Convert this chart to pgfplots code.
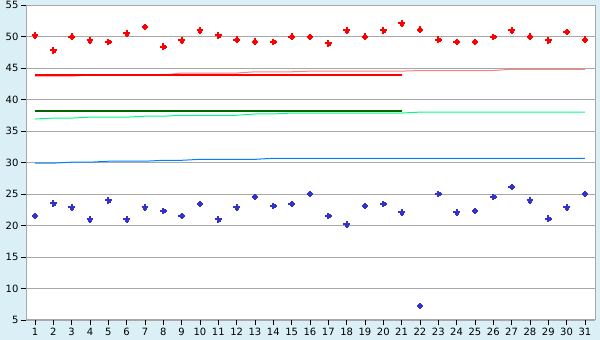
\documentclass[border=0pt]{standalone}
\usepackage{pgfplots}
\pgfplotsset{compat=1.18}
\usepackage{pgfplotstable}
\usepackage{fontspec}
\setmainfont{DejaVu Sans}
\definecolor{bg}{RGB}{218,240,246}
\definecolor{gridgray}{RGB}{168,168,168}
\definecolor{ptred}{RGB}{255,0,0}
\definecolor{ptblue}{RGB}{51,51,204}
\definecolor{salmon}{RGB}{255,128,128}
\definecolor{springg}{RGB}{0,255,128}
\definecolor{dgreen}{RGB}{0,102,0}
\definecolor{lblue}{RGB}{0,128,255}

\pgfplotstableread{
x red blue salmon spring lb
1 50.2 21.5 43.7 36.9 29.9
2 47.8 23.5 43.7 37.05 29.9
3 50.0 22.9 43.7 37.05 30.05
4 49.4 21.0 43.9 37.2 30.05
5 49.1 24.0 43.9 37.2 30.2
6 50.5 21.0 43.9 37.2 30.2
7 51.5 22.9 43.9 37.35 30.2
8 48.4 22.3 43.9 37.35 30.35
9 49.4 21.5 44.2 37.5 30.35
10 51.0 23.4 44.2 37.5 30.5
11 50.2 21.0 44.2 37.5 30.5
12 49.5 22.9 44.2 37.5 30.5
13 49.2 24.5 44.4 37.7 30.5
14 49.1 23.1 44.4 37.7 30.67
15 50.0 23.4 44.4 37.85 30.67
16 49.9 25.0 44.5 37.85 30.67
17 48.9 21.5 44.5 37.85 30.67
18 51.0 20.2 44.5 37.85 30.67
19 50.0 23.1 44.5 37.85 30.67
20 51.0 23.4 44.5 37.85 30.67
21 52.1 22.1 44.5 37.85 30.67
22 51.1 7.2 44.6 38.0 30.67
23 49.5 25.0 44.6 38.0 30.67
24 49.1 22.1 44.6 38.0 30.67
25 49.1 22.3 44.6 38.0 30.67
26 49.9 24.5 44.6 38.0 30.67
27 51.0 26.1 44.8 38.0 30.67
28 50.0 24.0 44.8 38.0 30.67
29 49.4 21.1 44.8 38.0 30.67
30 50.7 22.9 44.8 38.0 30.67
31 49.5 25.0 44.8 38.0 30.67
}\datatab

\pgfplotstableread{
x red green
1 43.9 38.2
2 43.9 38.2
3 43.9 38.2
4 43.9 38.2
5 43.9 38.2
6 43.9 38.2
7 43.9 38.2
8 43.9 38.2
9 43.9 38.2
10 43.9 38.2
11 43.9 38.2
12 43.9 38.2
13 43.9 38.2
14 43.9 38.2
15 43.9 38.2
16 43.9 38.2
17 43.9 38.2
18 43.9 38.2
19 43.9 38.2
20 43.9 38.2
21 43.9 38.2
}\meantab

\begin{document}
\begin{tikzpicture}[x=1pt,y=1pt]
\fill[bg] (0,0) rectangle (600,340);
\useasboundingbox (0,0) rectangle (600,340);
\begin{axis}[
  at={(26pt,20pt)}, anchor=south west,
  scale only axis, width=569pt, height=315pt,
  xmin=0.51, xmax=31.55, ymin=5, ymax=55,
  xtick={1,...,31}, ytick={5,10,...,55},
  axis background/.style={fill=white},
  axis line style={gridgray, line width=1pt},
  ymajorgrids, grid style={gridgray, line width=0.9pt},
  tick pos=left, tick align=outside, major tick length=5pt,
  tick style={black, line width=0.8pt},
  /pgf/number format/assume math mode=true,
  ticklabel style={font=\fontsize{10}{12}\selectfont},
  yticklabel style={xshift=1pt},
  clip=false,
]
\addplot[salmon, line width=1pt] table[x=x,y=salmon]{\datatab};
\addplot[springg, line width=1pt] table[x=x,y=spring]{\datatab};
\addplot[lblue, line width=1pt] table[x=x,y=lb]{\datatab};
\addplot[ptred, line width=2.2pt] table[x=x,y=red]{\meantab};
\addplot[dgreen, line width=2.2pt] table[x=x,y=green]{\meantab};
\addplot[only marks, mark=+, mark size=3.3pt, ptred, mark options={line width=2pt}] table[x=x,y=red]{\datatab};
\addplot[only marks, mark=square*, mark size=1.5pt, ptred] table[x=x,y=red]{\datatab};
\addplot[only marks, mark=+, mark size=3.3pt, ptblue, mark options={line width=2pt}] table[x=x,y=blue]{\datatab};
\addplot[only marks, mark=square*, mark size=1.5pt, ptblue] table[x=x,y=blue]{\datatab};
\end{axis}
\end{tikzpicture}
\end{document}
